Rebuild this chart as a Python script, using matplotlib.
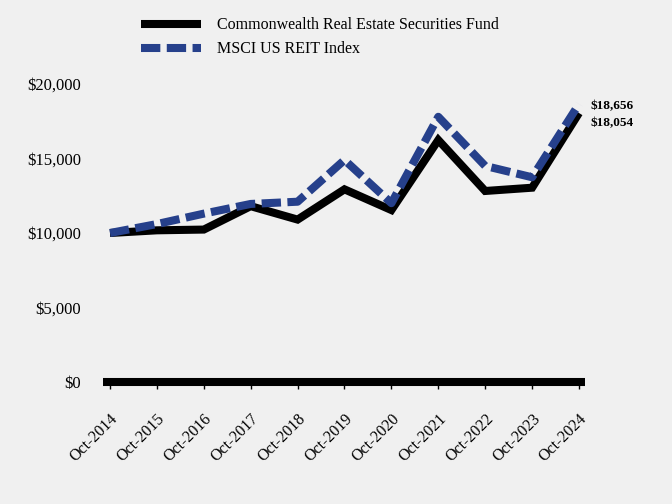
import matplotlib.pyplot as plt

plt.rcParams['font.family'] = ['Liberation Serif', 'DejaVu Serif']

years = ["Oct-2014", "Oct-2015", "Oct-2016", "Oct-2017", "Oct-2018", "Oct-2019",
         "Oct-2020", "Oct-2021", "Oct-2022", "Oct-2023", "Oct-2024"]
fund = [10000, 10180, 10230, 11800, 10900, 12930, 11540, 16240, 12820, 13040, 18054]
index = [10000, 10600, 11300, 11950, 12100, 14900, 12000, 17800, 14500, 13740, 18656]
fund_name = "Commonwealth Real Estate Securities Fund"
index_name = "MSCI US REIT Index"

bg = "#f0f0f0"
blue = "#26408b"

fig = plt.figure(figsize=(6.72, 5.04), dpi=100, facecolor=bg)
ax = fig.add_axes([103 / 672, 122 / 504, 482 / 672, 298 / 504], facecolor=bg)

x = list(range(len(years)))
ax.plot(x, fund, color="black", lw=5.8, solid_joinstyle="miter", solid_capstyle="butt",
        label=fund_name, clip_on=False)
ax.plot(x, index, color=blue, lw=5.8, dashes=(2.4, 0.8), dash_capstyle="butt",
        label=index_name, clip_on=False)

ax.set_xlim(-0.149, 10.128)
ax.set_ylim(0, 20000)
ax.set_yticks([0, 5000, 10000, 15000, 20000])
ax.set_yticklabels(["$0", "$5,000", "$10,000", "$15,000", "$20,000"], fontsize=12)
ax.set_xticks(x)
ax.set_xticklabels(years, fontsize=11.5, rotation=45, ha="right", rotation_mode="anchor")

for s in ["top", "right", "left"]:
    ax.spines[s].set_visible(False)
ax.spines["bottom"].set_linewidth(5.8)
ax.spines["bottom"].set_capstyle("butt")
ax.tick_params(axis="y", length=0, pad=16)
ax.tick_params(axis="x", length=5, width=1, pad=16)

# end value labels
ax.annotate("$18,656", xy=(10, index[-1]), xytext=(8.6, -1.5), textcoords="offset points",
            fontsize=9.5, fontweight="bold", va="center", ha="left")
ax.annotate("$18,054", xy=(10, fund[-1]), xytext=(8.6, -7.5), textcoords="offset points",
            fontsize=9.5, fontweight="bold", va="center", ha="left")

fig.legend(loc="upper left", bbox_to_anchor=(127 / 672, 1 - 3 / 504), frameon=False,
           fontsize=11.5, handlelength=3.75, handletextpad=1.0, labelspacing=0.5)

fig.savefig("out.png", dpi=100, facecolor=bg)
